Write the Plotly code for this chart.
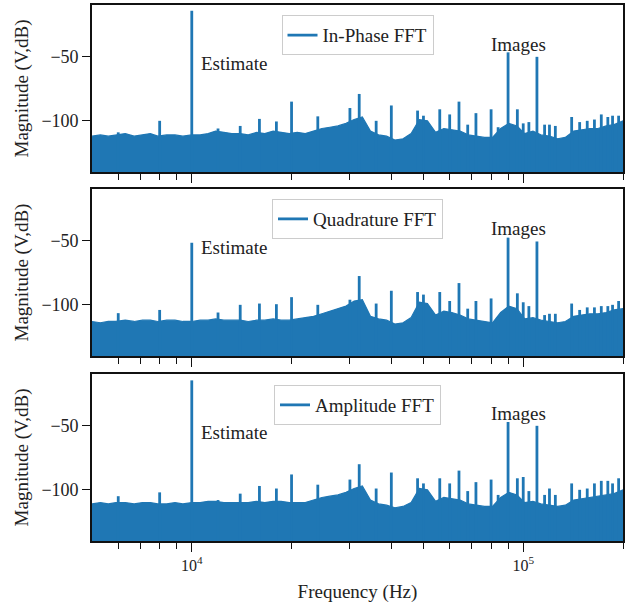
import math
import plotly.graph_objects as go
from plotly.subplots import make_subplots

# ---------------- data ----------------
panel_names = ["In-Phase FFT", "Quadrature FFT", "Amplitude FFT"]

floor_freqs = [5000, 5300, 5600, 5900, 6300, 6700, 7100, 7500, 7900, 8400, 8900, 9400,
               10000, 10600, 11200, 11800, 12500, 13200, 14000, 14800, 15700, 16600, 17600,
               18600, 19700, 20800, 22000, 23300, 24700, 26100, 27600, 29200, 30900, 32700,
               34600, 36600, 38700, 41000, 43400, 45900, 48600, 51400, 54400, 57600, 60900,
               64500, 68200, 72200, 76400, 80800, 85500, 90500, 95800, 101000, 107000, 113000,
               120000, 127000, 134000, 142000, 150000, 159000, 168000, 178000, 188000, 200000]

floor_inphase = [-112, -111, -112, -111, -110, -112, -111, -110, -112, -111, -111, -112,
                 -111, -111, -110, -108, -109, -110, -110, -111, -109, -110, -108,
                 -109, -110, -109, -110, -108, -106, -105, -104, -102, -99, -97,
                 -108, -111, -112, -115, -114, -110, -99, -100, -109, -106, -107,
                 -108, -111, -112, -113, -113, -106, -102, -104, -110, -108, -111,
                 -112, -114, -113, -108, -107, -106, -106, -104, -103, -100]

floor_quad = [-113, -114, -113, -113, -112, -113, -112, -112, -113, -112, -112, -113,
              -113, -112, -112, -111, -112, -112, -112, -113, -112, -112, -111,
              -112, -112, -111, -110, -109, -107, -105, -103, -101, -97, -96,
              -109, -111, -112, -115, -114, -110, -98, -99, -108, -105, -106,
              -108, -111, -112, -113, -114, -106, -101, -103, -111, -110, -112,
              -113, -114, -113, -109, -108, -107, -107, -106, -104, -103]

floor_amp = [-111, -110, -111, -110, -110, -111, -110, -110, -111, -111, -110, -111,
             -110, -110, -109, -109, -110, -110, -110, -110, -109, -110, -109,
             -109, -110, -110, -110, -108, -106, -105, -104, -102, -99, -97,
             -108, -111, -112, -114, -113, -110, -99, -100, -109, -106, -107,
             -108, -111, -112, -113, -113, -106, -102, -104, -110, -109, -111,
             -112, -113, -112, -108, -107, -106, -105, -104, -103, -100]

spike_freqs = [6000, 8000, 10000, 12000, 14000, 16000, 18000, 20000, 24000, 30000, 32000,
               36000, 40000, 48000, 50000, 56000, 60000, 64000, 68000, 72000, 80000, 84000,
               90000, 96000, 100000, 104000, 110000, 116000, 120000, 125000, 140000, 148000,
               156000, 164000, 172000, 180000, 186000, 194000]

spikes_inphase = [-109, -100, -14, -106, -104, -98.5, -100.5, -85, -96.5, -90, -79,
                  -100, -88, -92, -96, -91, -95, -85, -103, -94, -91, -105,
                  -46.5, -91, -102, -101, -50, -103, -103, -104, -97, -101,
                  -100, -99, -95, -97, -96, -96]

spikes_quad = [-106.5, -104, -51.5, -106, -100, -99, -99.5, -94, -100, -96, -77.5,
               -99, -89, -90, -92, -90, -97, -83, -103, -97, -95, -110,
               -47.5, -91, -98, -101, -50.5, -108, -107, -107, -99, -104,
               -102, -102, -101, -101, -100, -97]

spikes_amp = [-105, -102, -14.5, -108, -103, -97, -99, -88, -96, -92, -80,
              -99, -86.5, -91, -95, -91, -95, -85, -101, -94, -92, -104,
              -47, -91, -90, -101, -50, -104, -99, -104, -95, -100,
              -99, -95, -93, -93, -95, -91]

floors = [floor_inphase, floor_quad, floor_amp]
spikes = [spikes_inphase, spikes_quad, spikes_amp]

estimate_label = ("Estimate", 10500, -55)
images_label = ("Images", 97000, -40.5)

# ---------------- styling ----------------
BLUE = "#1f77b4"
FONT = "Liberation Serif, Times New Roman, serif"
TXT = "#222"
BASE = -150
YRANGE = [-140, -9.5]

fig = make_subplots(rows=3, cols=1, shared_xaxes=False, vertical_spacing=0.032)

domains = [[0.6884, 1.0], [0.3451, 0.6567], [0.0, 0.3116]]
legend_ids = ["legend", "legend2", "legend3"]
legend_tops = [0.981, 0.638, 0.291]

for i in range(3):
    r = i + 1
    fl = floors[i]
    # filled noise floor down to the axis bottom
    fig.add_trace(go.Scatter(
        x=floor_freqs + [floor_freqs[-1], floor_freqs[0]],
        y=fl + [BASE, BASE],
        mode="lines", fill="toself", fillcolor=BLUE,
        line=dict(color=BLUE, width=1.2),
        showlegend=False, hoverinfo="skip"), row=r, col=1)
    # spectral lines
    sx, sy = [], []
    for f, v in zip(spike_freqs, spikes[i]):
        sx += [f, f, None]
        sy += [BASE, v, None]
    fig.add_trace(go.Scatter(
        x=sx, y=sy, mode="lines",
        line=dict(color=BLUE, width=2.8),
        name=panel_names[i], legend=legend_ids[i]), row=r, col=1)

    xa = "x" if r == 1 else f"x{r}"
    ya = "y" if r == 1 else f"y{r}"
    fig.add_annotation(x=math.log10(estimate_label[1]), y=estimate_label[2],
                       xref=xa, yref=ya, text=estimate_label[0], showarrow=False,
                       xanchor="left", yanchor="middle",
                       font=dict(family=FONT, size=19, color=TXT))
    fig.add_annotation(x=math.log10(images_label[1]), y=images_label[2],
                       xref=xa, yref=ya, text=images_label[0], showarrow=False,
                       xanchor="center", yanchor="middle",
                       font=dict(family=FONT, size=19, color=TXT))

minor_vals = [6000, 7000, 8000, 9000, 20000, 30000, 40000, 50000, 60000, 70000,
              80000, 90000, 200000]

for i in range(3):
    r = i + 1
    fig.update_xaxes(
        type="log", range=[math.log10(5000), math.log10(200000)],
        automargin=False,
        showline=True, linecolor="#111", linewidth=1.6, mirror=True,
        showgrid=False, zeroline=False,
        ticks="outside", ticklen=9, tickwidth=1.4, tickcolor="#111",
        tickmode="array", tickvals=[1e4, 1e5],
        ticktext=["10<sup>4</sup>", "10<sup>5</sup>"],
        showticklabels=(r == 3),
        minor=dict(ticks="outside", ticklen=6, tickwidth=1.2, tickcolor="#111",
                   tickmode="array", tickvals=minor_vals, showgrid=False),
        tickfont=dict(family=FONT, size=16, color=TXT),
        domain=[0, 1], row=r, col=1)
    fig.update_yaxes(
        range=YRANGE, domain=domains[i], automargin=False,
        showline=True, linecolor="#111", linewidth=1.6, mirror=True,
        showgrid=False, zeroline=False,
        ticks="outside", ticklen=8, tickwidth=1.4, tickcolor="#111",
        tickmode="array", tickvals=[-100, -50],
        tickfont=dict(family=FONT, size=18, color=TXT),
        title=dict(text="Magnitude (V,dB)", standoff=8,
                   font=dict(family=FONT, size=19, color=TXT)),
        row=r, col=1)

fig.update_xaxes(title=dict(text="Frequency (Hz)", standoff=12,
                            font=dict(family=FONT, size=19, color=TXT)), row=3, col=1)

leg_common = dict(xanchor="center", x=0.5, yanchor="top",
                  bgcolor="rgba(255,255,255,0.85)", bordercolor="#cccccc", borderwidth=1,
                  font=dict(family=FONT, size=19, color=TXT))
fig.update_layout(
    width=635, height=608,
    margin=dict(l=92, r=12, t=5, b=67),
    paper_bgcolor="white", plot_bgcolor="white",
    showlegend=True,
    legend=dict(y=legend_tops[0], **leg_common),
    legend2=dict(y=legend_tops[1], **leg_common),
    legend3=dict(y=legend_tops[2], **leg_common),
)

fig.write_html("out.html", config={"displayModeBar": False},
               post_script="document.body.style.margin='0px';")
